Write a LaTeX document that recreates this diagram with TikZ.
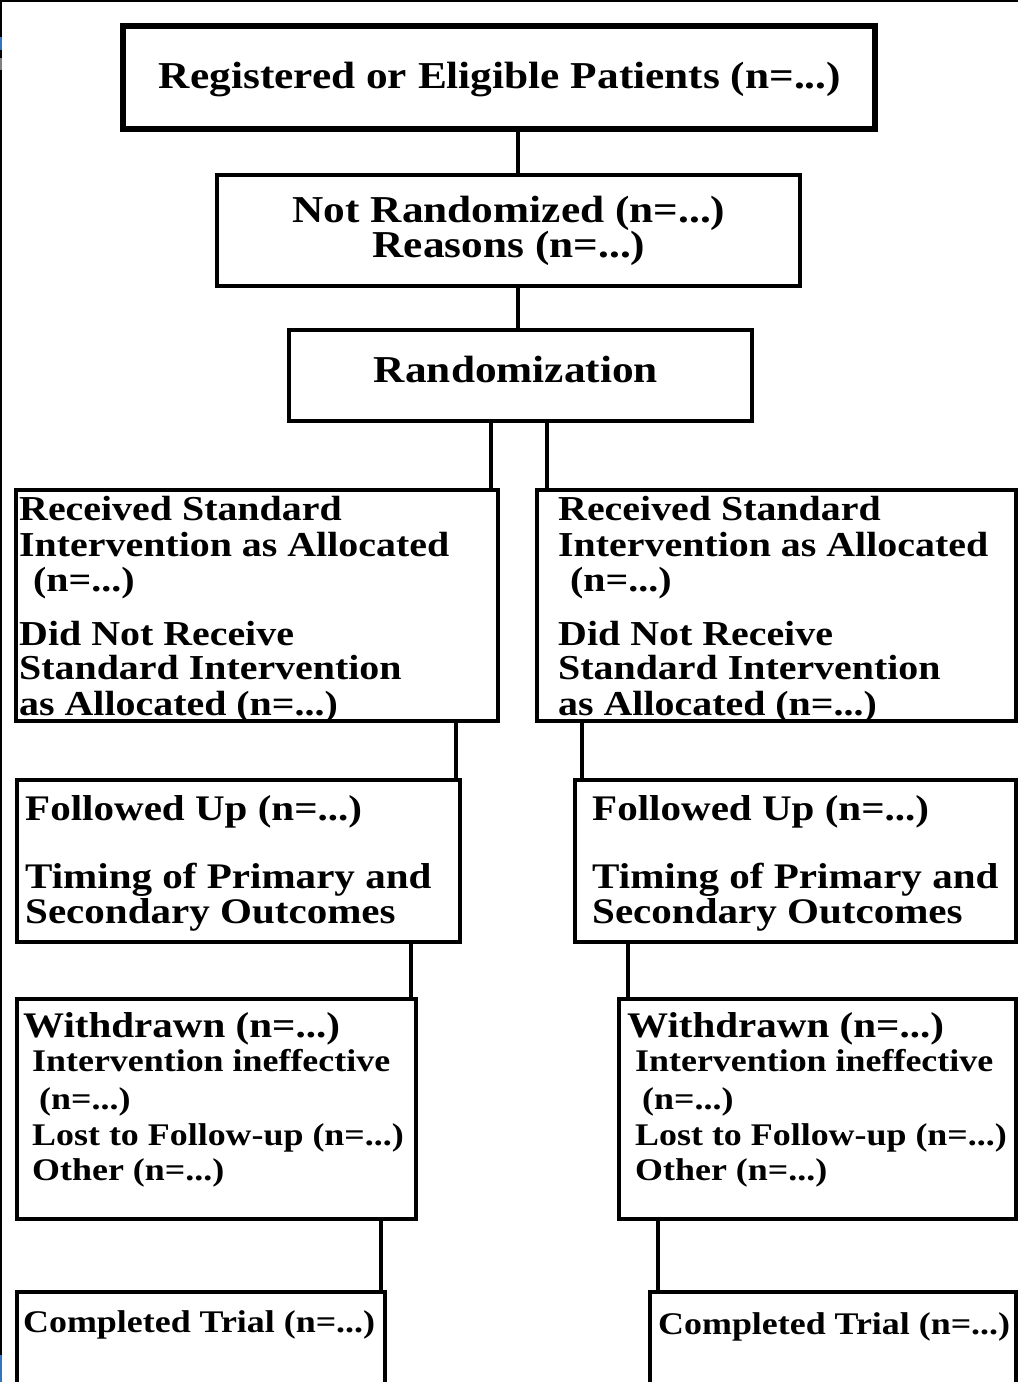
\documentclass[tikz,border=0pt]{standalone}
\usepackage{fontspec}
\newfontfamily\cfont{Liberation Serif}[FakeStretch=1.14]
\begin{document}
\begin{tikzpicture}[x=1pt,y=-1pt,
  box/.style={draw=black, line width=4pt, rectangle, inner sep=0pt, outer sep=0pt, anchor=north west, fill=white},
  conn/.style={draw=black, line width=4pt},
  toptxt/.style={inner sep=0pt, anchor=base, font=\cfont\bfseries\fontsize{38}{38}\selectfont},
  bigtxt/.style={inner sep=0pt, anchor=base west, font=\cfont\bfseries\fontsize{36}{36}\selectfont},
  alloctxt/.style={inner sep=0pt, anchor=base west, font=\cfont\bfseries\fontsize{35}{35}\selectfont},
  smalltxt/.style={inner sep=0pt, anchor=base west, font=\cfont\bfseries\fontsize{31.5}{31.5}\selectfont}]
\useasboundingbox (0,0) rectangle (1018,1382);
\clip (0,0) rectangle (1018,1382);
\fill[white] (0,0) rectangle (1018,1382);
% screen edge
\fill[black] (0,0) rectangle (2,1382);
\fill[black] (0,0) rectangle (1018,1.5);
\fill[blue!55!cyan!70!black!80] (0,37) rectangle (2,50);
\fill[gray] (0,58) rectangle (2,70);
\fill[blue!55!cyan!70!black!80] (0,1355) rectangle (2,1382);

% connector x positions
\coordinate (k1) at (518,0);
\coordinate (k2) at (491,0);
\coordinate (k3) at (547,0);
\coordinate (k4) at (456,0);
\coordinate (k5) at (582,0);
\coordinate (k6) at (411,0);
\coordinate (k7) at (628,0);
\coordinate (k8) at (381,0);
\coordinate (k9) at (658,0);

% boxes
\node[box, line width=6pt, minimum width=752pt, minimum height=103pt] (B1) at (123,26) {};
\node[box, line width=4.5pt, minimum width=583pt, minimum height=111pt] (B2) at (217,175) {};
\node[box, minimum width=463pt, minimum height=91pt] (B3) at (289,330) {};
\node[box, minimum width=482pt, minimum height=231pt] (AL) at (16,490) {};
\node[box, minimum width=479pt, minimum height=231pt] (AR) at (537,490) {};
\node[box, minimum width=443pt, minimum height=162pt] (FL) at (17,780) {};
\node[box, minimum width=441pt, minimum height=162pt] (FR) at (575,780) {};
\node[box, minimum width=399pt, minimum height=220pt] (WL) at (17,999) {};
\node[box, minimum width=397pt, minimum height=220pt] (WR) at (619,999) {};
\node[box, minimum width=368pt, minimum height=120pt] (CL) at (17,1292) {};
\node[box, minimum width=366pt, minimum height=120pt] (CR) at (650,1292) {};

% connectors
\draw[conn] (k1 |- B1.south) -- (k1 |- B2.north);
\draw[conn] (k1 |- B2.south) -- (k1 |- B3.north);
\draw[conn] (k2 |- B3.south) -- (k2 |- AL.north);
\draw[conn] (k3 |- B3.south) -- (k3 |- AR.north);
\draw[conn] (k4 |- AL.south) -- (k4 |- FL.north);
\draw[conn] (k5 |- AR.south) -- (k5 |- FR.north);
\draw[conn] (k6 |- FL.south) -- (k6 |- WL.north);
\draw[conn] (k7 |- FR.south) -- (k7 |- WR.north);
\draw[conn] (k8 |- WL.south) -- (k8 |- CL.north);
\draw[conn] (k9 |- WR.south) -- (k9 |- CR.north);

% texts: top
\node[toptxt] (t1) at (500,88) {Registered or Eligible Patients (n=...)};
\node[toptxt] (t2a) at (509,222) {Not Randomized (n=...)};
\node[toptxt] (t2b) at (509,257) {Reasons (n=...)};
\node[toptxt] (t3) at (516,382) {Randomization};

% allocation boxes
\node[alloctxt] (al1) at (19,520) {Received Standard};
\node[alloctxt] (al2) at (19,556) {Intervention as Allocated};
\node[alloctxt] (al3) at (33,591) {(n=...)};
\node[alloctxt] (al4) at (19,645) {Did Not Receive};
\node[alloctxt] (al5) at (19,679) {Standard Intervention};
\node[alloctxt] (al6) at (19,715) {as Allocated (n=...)};

\node[alloctxt] (ar1) at (558,520) {Received Standard};
\node[alloctxt] (ar2) at (558,556) {Intervention as Allocated};
\node[alloctxt] (ar3) at (570,591) {(n=...)};
\node[alloctxt] (ar4) at (558,645) {Did Not Receive};
\node[alloctxt] (ar5) at (558,679) {Standard Intervention};
\node[alloctxt] (ar6) at (558,715) {as Allocated (n=...)};

% follow-up boxes
\node[bigtxt] (fl1) at (25,820) {Followed Up (n=...)};
\node[bigtxt] (fl2) at (25,888) {Timing of Primary and};
\node[bigtxt] (fl3) at (25,923) {Secondary Outcomes};

\node[bigtxt] (fr1) at (592,820) {Followed Up (n=...)};
\node[bigtxt] (fr2) at (592,888) {Timing of Primary and};
\node[bigtxt] (fr3) at (592,923) {Secondary Outcomes};

% withdrawn boxes
\node[bigtxt] (wl1) at (23,1037) {Withdrawn (n=...)};
\node[smalltxt] (wl2) at (32,1071) {Intervention ineffective};
\node[smalltxt] (wl3) at (39,1109) {(n=...)};
\node[smalltxt] (wl4) at (32,1145) {Lost to Follow-up (n=...)};
\node[smalltxt] (wl5) at (32,1180) {Other (n=...)};

\node[bigtxt] (wr1) at (627,1037) {Withdrawn (n=...)};
\node[smalltxt] (wr2) at (635,1071) {Intervention ineffective};
\node[smalltxt] (wr3) at (642,1109) {(n=...)};
\node[smalltxt] (wr4) at (635,1145) {Lost to Follow-up (n=...)};
\node[smalltxt] (wr5) at (635,1180) {Other (n=...)};

% completed boxes
\node[smalltxt] (cl1) at (23,1332) {Completed Trial (n=...)};
\node[smalltxt] (cr1) at (658,1334) {Completed Trial (n=...)};
\end{tikzpicture}
\end{document}
